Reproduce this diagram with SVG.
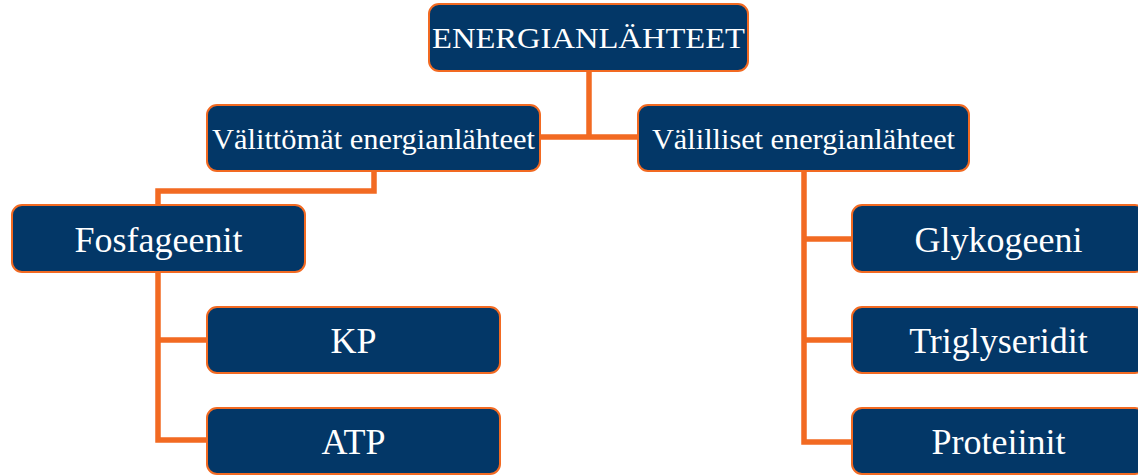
<svg xmlns="http://www.w3.org/2000/svg" width="1138" height="475" viewBox="0 0 1138 475">
<style>
.box{fill:#033767;stroke:#F26A22;stroke-width:2}
.t{fill:#fff;font-family:"Liberation Serif",serif;text-anchor:middle}
.con{fill:none;stroke:#F26A22;stroke-width:5.5;stroke-linejoin:miter}
</style>
<rect width="1138" height="475" fill="#fff"/>
<g id="connectors" class="con">
<path d="M589,71 V137 M540,137 H637"/>
<path d="M374,171 V191 H158 V440 H207 M158,340 H207"/>
<path d="M804,171 V442 H852 M804,239 H852 M804,340 H852"/>
</g>
<g id="n-root"><rect class="box" x="429" y="4" width="319" height="67" rx="10"/><text class="t" x="588.5" y="48" font-size="30" textLength="313" lengthAdjust="spacingAndGlyphs">ENERGIANLÄHTEET</text></g>
<g id="n-valittomat"><rect class="box" x="207" y="105" width="333" height="66" rx="10"/><text class="t" x="373.5" y="149" font-size="30" textLength="323" lengthAdjust="spacingAndGlyphs">Välittömät energianlähteet</text></g>
<g id="n-valilliset"><rect class="box" x="638" y="105" width="331" height="66" rx="10"/><text class="t" x="803.5" y="149" font-size="30" textLength="303" lengthAdjust="spacingAndGlyphs">Välilliset energianlähteet</text></g>
<g id="n-fosfageenit"><rect class="box" x="12" y="205" width="293" height="67" rx="10"/><text class="t" x="158.5" y="252" font-size="36">Fosfageenit</text></g>
<g id="n-kp"><rect class="box" x="207" y="307" width="293" height="66" rx="10"/><text class="t" x="353.5" y="353" font-size="36">KP</text></g>
<g id="n-atp"><rect class="box" x="207" y="408" width="293" height="66" rx="10"/><text class="t" x="353.5" y="454" font-size="36">ATP</text></g>
<g id="n-glykogeeni"><rect class="box" x="852" y="205" width="293" height="67" rx="10"/><text class="t" x="998.5" y="252" font-size="36">Glykogeeni</text></g>
<g id="n-triglyseridit"><rect class="box" x="852" y="307" width="293" height="66" rx="10"/><text class="t" x="998.5" y="353" font-size="36">Triglyseridit</text></g>
<g id="n-proteiinit"><rect class="box" x="852" y="408" width="293" height="66" rx="10"/><text class="t" x="998.5" y="454" font-size="36">Proteiinit</text></g>
</svg>
